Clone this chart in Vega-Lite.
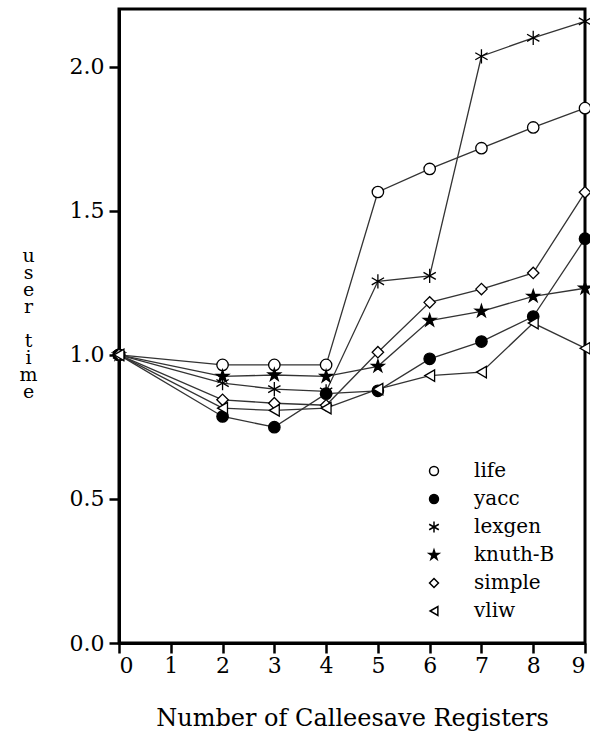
{
  "$schema": "https://vega.github.io/schema/vega-lite/v6.json",
  "width": 466,
  "height": 634,
  "autosize": "none",
  "padding": {"left": 119, "top": 9, "right": 5, "bottom": 93},
  "background": "white",
  "config": {
    "font": "DejaVu Serif",
    "view": {"stroke": "black", "strokeWidth": 3},
    "axis": {"grid": false, "domainColor": "black", "domainWidth": 3, "tickColor": "black", "tickWidth": 2.5, "tickSize": 10, "labelFont": "DejaVu Serif", "labelFontSize": 22, "labelColor": "black", "titleFont": "DejaVu Serif", "titleColor": "black", "titleFontWeight": "normal"}
  },
  "data": {"values": [
    {"series": "life", "x": 0, "y": 1.0}, {"series": "life", "x": 2, "y": 0.965}, {"series": "life", "x": 3, "y": 0.965}, {"series": "life", "x": 4, "y": 0.965}, {"series": "life", "x": 5, "y": 1.565}, {"series": "life", "x": 6, "y": 1.645}, {"series": "life", "x": 7, "y": 1.717}, {"series": "life", "x": 8, "y": 1.789}, {"series": "life", "x": 9, "y": 1.856},
    {"series": "yacc", "x": 0, "y": 1.0}, {"series": "yacc", "x": 2, "y": 0.786}, {"series": "yacc", "x": 3, "y": 0.749}, {"series": "yacc", "x": 4, "y": 0.865}, {"series": "yacc", "x": 5, "y": 0.875}, {"series": "yacc", "x": 6, "y": 0.986}, {"series": "yacc", "x": 7, "y": 1.046}, {"series": "yacc", "x": 8, "y": 1.133}, {"series": "yacc", "x": 9, "y": 1.403},
    {"series": "lexgen", "x": 0, "y": 1.0}, {"series": "lexgen", "x": 2, "y": 0.902}, {"series": "lexgen", "x": 3, "y": 0.881}, {"series": "lexgen", "x": 4, "y": 0.873}, {"series": "lexgen", "x": 5, "y": 1.255}, {"series": "lexgen", "x": 6, "y": 1.274}, {"series": "lexgen", "x": 7, "y": 2.036}, {"series": "lexgen", "x": 8, "y": 2.1}, {"series": "lexgen", "x": 9, "y": 2.157},
    {"series": "knuth-B", "x": 0, "y": 1.0}, {"series": "knuth-B", "x": 2, "y": 0.925}, {"series": "knuth-B", "x": 3, "y": 0.93}, {"series": "knuth-B", "x": 4, "y": 0.925}, {"series": "knuth-B", "x": 5, "y": 0.96}, {"series": "knuth-B", "x": 6, "y": 1.119}, {"series": "knuth-B", "x": 7, "y": 1.151}, {"series": "knuth-B", "x": 8, "y": 1.203}, {"series": "knuth-B", "x": 9, "y": 1.231},
    {"series": "simple", "x": 0, "y": 1.0}, {"series": "simple", "x": 2, "y": 0.844}, {"series": "simple", "x": 3, "y": 0.832}, {"series": "simple", "x": 4, "y": 0.825}, {"series": "simple", "x": 5, "y": 1.009}, {"series": "simple", "x": 6, "y": 1.182}, {"series": "simple", "x": 7, "y": 1.228}, {"series": "simple", "x": 8, "y": 1.284}, {"series": "simple", "x": 9, "y": 1.564},
    {"series": "vliw", "x": 0, "y": 1.0}, {"series": "vliw", "x": 2, "y": 0.815}, {"series": "vliw", "x": 3, "y": 0.807}, {"series": "vliw", "x": 4, "y": 0.815}, {"series": "vliw", "x": 5, "y": 0.881}, {"series": "vliw", "x": 6, "y": 0.928}, {"series": "vliw", "x": 7, "y": 0.94}, {"series": "vliw", "x": 8, "y": 1.11}, {"series": "vliw", "x": 9, "y": 1.023}
  ]},
  "encoding": {
    "x": {"field": "x", "type": "quantitative", "scale": {"domain": [0, 9], "nice": false, "zero": false},
      "axis": {"values": [0,1,2,3,4,5,6,7,8,9], "format": "d", "labelPadding": 2, "title": "Number of Calleesave Registers", "titleFontSize": 24, "titlePadding": 30}},
    "y": {"field": "y", "type": "quantitative", "scale": {"domain": [0, 2.2], "nice": false},
      "axis": {"values": [0, 0.5, 1, 1.5, 2], "format": ".1f", "labelPadding": 5,
        "title": ["u", "s", "e", "r", "\u2800", "t", "i", "m", "e"], "titleAngle": 0, "titleFontSize": 19, "titleLineHeight": 17, "titleAlign": "center", "titleBaseline": "middle", "titleX": -91, "titleY": 246}}
  },
  "layer": [
    {"mark": {"type": "line", "color": "#333333", "strokeWidth": 1.3},
     "encoding": {"detail": {"field": "series"}}},
    {"mark": {"type": "point", "opacity": 1, "strokeWidth": 1.3, "stroke": "black", "size": 130},
     "encoding": {
       "shape": {"field": "series", "type": "nominal",
         "scale": {"domain": ["life", "yacc", "lexgen", "knuth-B", "simple", "vliw"],
           "range": ["circle", "circle", "M0,-1.25L0,1.25M-1.08,-0.62L1.08,0.62M-1.08,0.62L1.08,-0.62", "M0,-1.15L0.256,-0.353L1.094,-0.355L0.415,0.135L0.676,0.93L0,0.437L-0.676,0.93L-0.415,0.135L-1.094,-0.355L-0.256,-0.353Z", "diamond", "triangle-left"]},
         "legend": {"title": null, "orient": "none", "legendX": 305, "legendY": 452, "symbolSize": 80, "labelFont": "DejaVu Serif", "labelFontSize": 20, "labelColor": "black", "labelOffset": 30, "rowPadding": 8,
           "encode": {"symbols": {"update": {"stroke": {"value": "black"}, "strokeWidth": {"value": 1.2}, "opacity": {"value": 1}}}}}},
       "fill": {"field": "series", "type": "nominal",
         "scale": {"domain": ["life", "yacc", "lexgen", "knuth-B", "simple", "vliw"],
           "range": ["white", "black", "transparent", "black", "white", "white"]},
         "legend": {"title": null, "orient": "none", "legendX": 305, "legendY": 452, "symbolSize": 80, "labelFont": "DejaVu Serif", "labelFontSize": 20, "labelColor": "black", "labelOffset": 30, "rowPadding": 8,
           "encode": {"symbols": {"update": {"stroke": {"value": "black"}, "strokeWidth": {"value": 1.2}, "opacity": {"value": 1}}}}}}
     }}
  ]
}
